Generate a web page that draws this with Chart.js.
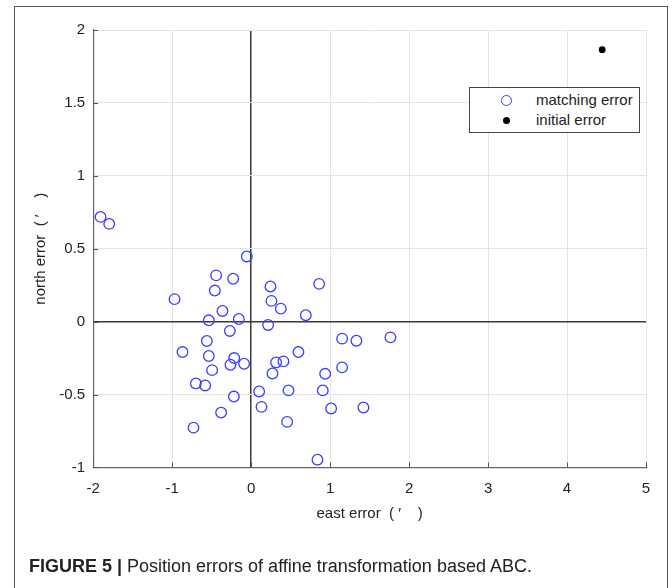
<!DOCTYPE html>
<html>
<head>
<meta charset="utf-8">
<script src="https://cdn.jsdelivr.net/npm/chart.js@4.4.0/dist/chart.umd.min.js"></script>
<style>
  body { margin: 0; background: #fff; font-family: "Liberation Sans", Arial, sans-serif; }
  #frame { position: absolute; left: 14px; top: 6px; width: 652px; height: 640px; border: 1.5px solid #555; border-bottom: none; }
  #wrap { position: absolute; left: 0; top: 0; width: 672px; height: 588px; }
  #legend { position: absolute; left: 469px; top: 87px; width: 169px; height: 44px; border: 1px solid #444; background: #fff; font-size: 15px; color: #222; }
  .row { position: absolute; left: 0; height: 20px; line-height: 20px; }
  .row span.txt { position: absolute; left: 66px; white-space: nowrap; }
  .mk { position: absolute; border-radius: 50%; box-sizing: border-box; }
  #caption { position: absolute; left: 29px; top: 556px; font-size: 18px; line-height: 21px; color: #222; white-space: nowrap; }
</style>
</head>
<body>
<div id="frame"></div>
<div id="wrap"><canvas id="chart" width="672" height="588"></canvas></div>
<div id="legend"></div>
<div id="caption"><b>FIGURE 5 |</b> Position errors of affine transformation based ABC.</div>
<script>
// series names
var seriesNames = ["matching error", "initial error"];

// matching error points (east, north)
var matchEast = [-1.907, -1.797, -0.055, -0.443, -0.228, -0.460, -0.970, -0.363, -0.536, -0.156,
  -0.270, -0.561, -0.869, -0.536, -0.215, -0.262, -0.089, -0.494, -0.700, -0.582,
  -0.219, -0.380, -0.730,
  0.245, 0.861, 0.257, 0.376, 0.692, 0.215, 1.152, 1.333, 1.764, 0.599,
  0.316, 0.409, 1.152, 0.270, 0.937, 0.101, 0.473, 0.907, 0.131, 1.013,
  1.422, 0.456, 0.840];
var matchNorth = [0.718, 0.670, 0.447, 0.317, 0.294, 0.213, 0.154, 0.073, 0.009, 0.018,
  -0.064, -0.133, -0.209, -0.236, -0.250, -0.296, -0.289, -0.333, -0.424, -0.438,
  -0.514, -0.624, -0.727,
  0.241, 0.259, 0.142, 0.089, 0.044, -0.023, -0.117, -0.131, -0.108, -0.209,
  -0.280, -0.273, -0.314, -0.356, -0.358, -0.479, -0.472, -0.472, -0.585, -0.596,
  -0.589, -0.688, -0.947];

// initial error point
var initEast = [4.445];
var initNorth = [1.865];

// axes
var xTicks = [-2, -1, 0, 1, 2, 3, 4, 5];
var yTicks = [-1, -0.5, 0, 0.5, 1, 1.5, 2];

var blue = "#3c3cff";

function toPoints(xs, ys) {
  var pts = [];
  for (var i = 0; i < xs.length; i++) {
    pts.push({ x: xs[i], y: ys[i] });
  }
  return pts;
}

// legend
var legend = document.getElementById("legend");
legend.innerHTML =
  '<div class="row" style="top:2px;width:100%"><div class="mk" style="left:31px;top:5px;width:11px;height:11px;border:1.3px solid ' + blue + '"></div><span class="txt">' + seriesNames[0] + '</span></div>' +
  '<div class="row" style="top:22px;width:100%"><div class="mk" style="left:33px;top:7px;width:7px;height:7px;background:#000"></div><span class="txt">' + seriesNames[1] + '</span></div>';

// inward tick marks like matlab
var innerTicks = {
  id: "innerTicks",
  afterDraw: function(chart) {
    var ctx = chart.ctx;
    var area = chart.chartArea;
    var xs = chart.scales.x, ys = chart.scales.y;
    ctx.save();
    ctx.strokeStyle = "#555";
    ctx.lineWidth = 1;
    ctx.beginPath();
    xTicks.forEach(function(v) {
      var px = Math.round(xs.getPixelForValue(v)) + 0.5;
      ctx.moveTo(px, area.bottom);
      ctx.lineTo(px, area.bottom - 5);
    });
    yTicks.forEach(function(v) {
      var py = Math.round(ys.getPixelForValue(v)) + 0.5;
      ctx.moveTo(area.left, py);
      ctx.lineTo(area.left + 5, py);
    });
    ctx.stroke();
    ctx.restore();
  }
};

var ctx = document.getElementById("chart").getContext("2d");
var chart = new Chart(ctx, {
  type: "scatter",
  data: {
    datasets: [
      {
        label: seriesNames[0],
        data: toPoints(matchEast, matchNorth),
        backgroundColor: "rgba(0,0,0,0)",
        borderColor: blue,
        borderWidth: 1.3,
        pointRadius: 5.3,
        pointHoverRadius: 5.3
      },
      {
        label: seriesNames[1],
        data: toPoints(initEast, initNorth),
        backgroundColor: "#000",
        borderColor: "#000",
        borderWidth: 0,
        pointRadius: 3.4,
        pointHoverRadius: 3.4
      }
    ]
  },
  options: {
    responsive: false,
    animation: false,
    layout: { padding: { left: 32, top: 30, right: 26, bottom: 65 } },
    plugins: {
      legend: { display: false },
      tooltip: { enabled: false }
    },
    scales: {
      x: {
        type: "linear",
        min: -2,
        max: 5,
        afterFit: function(scale) { scale.height = 55.6; },
        afterBuildTicks: function(scale) {
          scale.ticks = xTicks.map(function(v) { return { value: v }; });
        },
        ticks: {
          padding: 12,
          color: "#222",
          font: { family: "Liberation Sans", size: 15 },
          callback: function(v) { return String(v); }
        },
        grid: {
          drawTicks: false,
          color: function(c) { return c.tick && c.tick.value === 0 ? "#3a3a3a" : "#e4e4e4"; },
          lineWidth: function(c) { return c.tick && c.tick.value === 0 ? 1.5 : 1; }
        },
        border: { color: "#666", width: 1.2 },
        title: {
          display: true,
          text: "east error  ( \u2032    )",
          color: "#222",
          padding: 0,
          font: { family: "Liberation Sans", size: 15 }
        }
      },
      y: {
        type: "linear",
        min: -1,
        max: 2,
        afterFit: function(scale) { scale.width = 61.2; },
        afterBuildTicks: function(scale) {
          scale.ticks = yTicks.map(function(v) { return { value: v }; });
        },
        ticks: {
          padding: 8,
          color: "#222",
          font: { family: "Liberation Sans", size: 15 },
          callback: function(v) { return String(v); }
        },
        grid: {
          drawTicks: false,
          color: function(c) { return c.tick && c.tick.value === 0 ? "#3a3a3a" : "#e4e4e4"; },
          lineWidth: function(c) { return c.tick && c.tick.value === 0 ? 1.5 : 1; }
        },
        border: { color: "#666", width: 1.2 },
        title: {
          display: true,
          text: "north error  ( \u2032    )",
          color: "#222",
          padding: 0,
          font: { family: "Liberation Sans", size: 15 }
        }
      }
    }
  },
  plugins: [innerTicks]
});
</script>
</body>
</html>
